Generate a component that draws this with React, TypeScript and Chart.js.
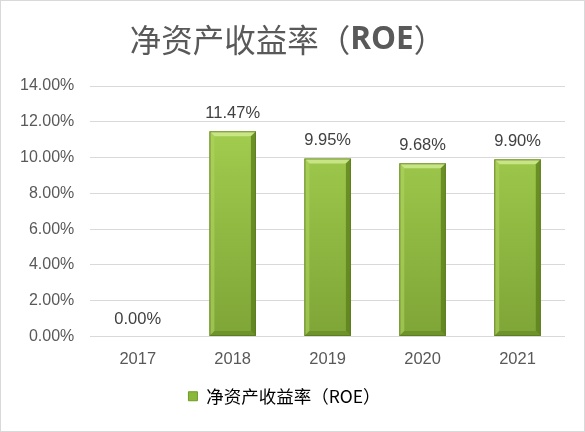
import React, { useEffect, useRef } from 'react';
import { Chart, registerables } from 'chart.js';

Chart.register(...registerables);

const years = ['2017', '2018', '2019', '2020', '2021'];
const roe = [0, 11.47, 9.95, 9.68, 9.9];
const seriesName = '净资产收益率（ROE）';
const titleParts = ['净资产收益率（', 'ROE', '）'];

const latin = '"Liberation Sans", Arial, sans-serif';
const cjk = '"Noto Sans CJK SC", "Liberation Sans", sans-serif';

// title with bold ROE, drawn by hand so the weights can differ
const titlePlugin = {
    id: 'mixedTitle',
    afterDraw(chart: Chart) {
        const ctx = chart.ctx;
        const fonts = ['31.5px ' + cjk, 'bold 31.5px "Open Sans", sans-serif', '31.5px ' + cjk];
        ctx.save();
        let total = 0;
        const widths = titleParts.map((t, i) => {
            ctx.font = fonts[i];
            const w = ctx.measureText(t).width;
            total += w;
            return w;
        });
        let x = chart.width / 2 - total / 2 - 5;
        ctx.fillStyle = '#595959';
        ctx.textBaseline = 'middle';
        ctx.textAlign = 'left';
        titleParts.forEach((t, i) => {
            ctx.font = fonts[i];
            ctx.fillText(t, x, 39);
            x += widths[i];
        });
        ctx.restore();
    }
};

const valueLabels = {
    id: 'valueLabels',
    afterDatasetsDraw(chart: Chart) {
        const ctx = chart.ctx;
        const meta = chart.getDatasetMeta(0);
        ctx.save();
        ctx.font = '16.5px ' + latin;
        ctx.fillStyle = '#404040';
        ctx.textAlign = 'center';
        ctx.textBaseline = 'alphabetic';
        meta.data.forEach((el: any, i) => {
            ctx.fillText(roe[i].toFixed(2) + '%', el.x, el.y - 13);
        });
        ctx.restore();
    }
};

// light top edge and dark right edge to mimic the bevel
const bevel = {
    id: 'bevel',
    afterDatasetsDraw(chart: Chart) {
        const ctx = chart.ctx;
        const meta = chart.getDatasetMeta(0);
        ctx.save();
        meta.data.forEach((el: any) => {
            const h = el.base - el.y;
            if (h < 8) return;
            const l = el.x - el.width / 2;
            const r = el.x + el.width / 2;
            const t = el.y;
            const b = el.base;
            const e = 5;
            ctx.fillStyle = 'rgba(205,232,140,0.9)';
            ctx.beginPath();
            ctx.moveTo(l, t);
            ctx.lineTo(r, t);
            ctx.lineTo(r - e, t + e);
            ctx.lineTo(l + e, t + e);
            ctx.closePath();
            ctx.fill();
            ctx.fillStyle = 'rgba(90,125,25,0.75)';
            ctx.beginPath();
            ctx.moveTo(r, t);
            ctx.lineTo(r, b);
            ctx.lineTo(r - e, b - e);
            ctx.lineTo(r - e, t + e);
            ctx.closePath();
            ctx.fill();
            ctx.fillStyle = 'rgba(175,212,95,0.6)';
            ctx.beginPath();
            ctx.moveTo(l, t);
            ctx.lineTo(l + e, t + e);
            ctx.lineTo(l + e, b - e);
            ctx.lineTo(l, b);
            ctx.closePath();
            ctx.fill();
            ctx.fillStyle = 'rgba(100,135,35,0.6)';
            ctx.beginPath();
            ctx.moveTo(l, b);
            ctx.lineTo(l + e, b - e);
            ctx.lineTo(r - e, b - e);
            ctx.lineTo(r, b);
            ctx.closePath();
            ctx.fill();
            ctx.strokeStyle = 'rgba(90,120,30,0.8)';
            ctx.lineWidth = 1;
            ctx.strokeRect(l + 0.5, t + 0.5, el.width - 1, h - 1);
        });
        ctx.restore();
    }
};

const RoeChart = () => {
    const canvasRef = useRef<HTMLCanvasElement>(null);
    const chartInstance = useRef<Chart | null>(null);

    useEffect(() => {
        document.body.style.margin = '0';
        if (!canvasRef.current) return;
        const ctx = canvasRef.current.getContext('2d');
        if (!ctx) return;
        if (chartInstance.current) chartInstance.current.destroy();

        chartInstance.current = new Chart(ctx, {
            type: 'bar',
            data: {
                labels: years,
                datasets: [{
                    label: seriesName,
                    data: roe,
                    backgroundColor: (c: any) => {
                        const area = c.chart.chartArea;
                        if (!area) return '#92c13d';
                        const g = c.chart.ctx.createLinearGradient(0, area.bottom, 0, area.top + 40);
                        g.addColorStop(0, '#7ea537');
                        g.addColorStop(1, '#a2cd4e');
                        return g;
                    },
                    borderWidth: 0,
                    barPercentage: 0.49,
                    categoryPercentage: 1
                }]
            },
            options: {
                responsive: false,
                animation: false,
                layout: { padding: { top: 85, left: 3, right: 19, bottom: 16 } },
                scales: {
                    x: {
                        grid: { display: false, drawTicks: false },
                        border: { display: false },
                        ticks: { color: '#595959', font: { family: latin, size: 16.5 }, padding: 13 },
                        afterFit: (scale: any) => { scale.height = 41; }
                    },
                    y: {
                        min: 0,
                        max: 14,
                        grid: { color: '#d9d9d9', drawTicks: false },
                        border: { display: false },
                        ticks: {
                            stepSize: 2,
                            color: '#595959',
                            padding: 16,
                            font: { family: latin, size: 16 },
                            callback: (v: any) => Number(v).toFixed(2) + '%'
                        }
                    }
                },
                plugins: {
                    legend: {
                        position: 'bottom',
                        labels: {
                            boxWidth: 9,
                            boxHeight: 9,
                            color: '#595959',
                            padding: 10,
                            font: { family: cjk, size: 17.5 },
                            generateLabels: () => [{
                                text: seriesName,
                                fillStyle: '#8bb83a',
                                strokeStyle: '#6e9a28',
                                lineWidth: 1,
                                hidden: false,
                                datasetIndex: 0
                            }]
                        }
                    },
                    title: { display: false },
                    tooltip: { enabled: false }
                }
            },
            plugins: [titlePlugin, valueLabels, bevel]
        });

        return () => {
            if (chartInstance.current) {
                chartInstance.current.destroy();
                chartInstance.current = null;
            }
        };
    }, []);

    return (
        <div style={{ width: 585, height: 432, boxSizing: 'border-box', border: '1px solid #d9d9d9', background: '#fff' }}>
            <canvas ref={canvasRef} width={583} height={430} style={{ display: 'block', width: 583, height: 430 }}></canvas>
        </div>
    );
};

export default function App() {
    return <RoeChart />;
}
